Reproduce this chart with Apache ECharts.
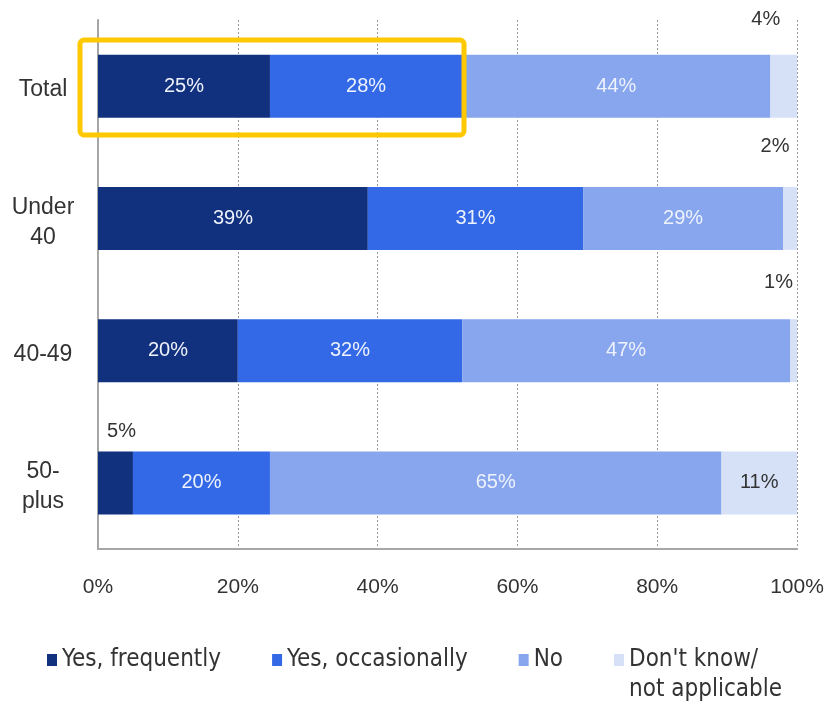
<!DOCTYPE html>
<html>
<head>
<meta charset="utf-8">
<script src="https://cdn.jsdelivr.net/npm/echarts@6/dist/echarts.min.js"></script>
<style>html,body{margin:0;padding:0;background:#fff}#c{width:824px;height:701px}</style>
</head>
<body>
<div id="c"></div>
<script>
const categories = ['Total', 'Under\n40', '40-49', '50-\nplus'];
const seriesNames = ['Yes, frequently', 'Yes, occasionally', 'No', "Don't know/\nnot applicable"];
const yesFrequently = [24.6, 38.6, 20.0, 5.0];
const yesOccasionally = [27.5, 30.8, 32.1, 19.6];
const noValues = [44.1, 28.6, 46.9, 64.6];
const dontKnow = [3.8, 2.0, 1.0, 10.8];
const xTicks = [0, 20, 40, 60, 80, 100];

const colors = ['#11307d', '#3369e6', '#87a6ee', '#d6e1f8'];
const labelColors = ['#eef2fc', '#eef2fc', '#eef2fc', '#333333'];
const allValues = [yesFrequently, yesOccasionally, noValues, dontKnow];
const mainFont = "'Liberation Sans', Arial, sans-serif";
const legendFont = "'Liberation Sans Narrow', 'DejaVu Sans Condensed', sans-serif";

// label offsets for small segments shown outside the bar
const outsideOffsets = {
  '3-0': [-18, -20],
  '3-1': [-15, -25],
  '3-2': [-15, -22],
  '0-3': [6, -5]
};

const series = allValues.map((vals, si) => ({
  name: seriesNames[si],
  type: 'bar',
  stack: 'all',
  barWidth: 63,
  itemStyle: { color: colors[si] },
  label: {
    show: true,
    position: 'inside',
    color: labelColors[si],
    fontSize: 20,
    fontFamily: mainFont,
    formatter: p => Math.round(p.value) + '%'
  },
  data: vals.map((v, ci) => {
    const key = si + '-' + ci;
    if (outsideOffsets[key]) {
      return {
        value: v,
        label: { position: 'top', distance: 5, offset: outsideOffsets[key], color: '#333333' }
      };
    }
    return v;
  })
}));

const tagLines = (txt, tag) => txt.split('\n').map(l => '{' + tag + '|' + l + '}').join('\n');

const chart = echarts.init(document.getElementById('c'), null, { renderer: 'canvas' });
chart.setOption({
  animation: false,
  backgroundColor: '#ffffff',
  grid: { left: 98, right: 27, top: 20, bottom: 152, containLabel: false, outerBoundsMode: 'none' },
  xAxis: {
    type: 'value',
    min: 0,
    max: 100,
    interval: 20,
    axisLine: { show: true, lineStyle: { color: '#a6a6a6', width: 2 } },
    axisTick: { show: false },
    axisLabel: {
      margin: 28,
      fontSize: 21,
      color: '#333333',
      fontFamily: mainFont,
      formatter: v => v + '%'
    },
    splitLine: { show: true, lineStyle: { color: '#999999', width: 1, type: [2, 2] } }
  },
  yAxis: {
    type: 'category',
    data: categories,
    inverse: true,
    axisLine: { show: true, lineStyle: { color: '#a6a6a6', width: 2 } },
    axisTick: { show: false },
    axisLabel: {
      margin: 55,
      align: 'center',
      formatter: v => '{s| }\n' + tagLines(v, 't'),
      rich: {
        s: { fontSize: 1, lineHeight: 8 },
        t: { fontSize: 23, lineHeight: 30, color: '#333333', fontFamily: mainFont, align: 'center' }
      }
    }
  },
  legend: {
    left: 42,
    top: 610,
    itemWidth: 10,
    itemHeight: 12,
    itemGap: 51,
    icon: 'rect',
    formatter: n => n.indexOf('\n') >= 0 ? '{s| }\n' + tagLines(n, 't') : tagLines(n, 't'),
    textStyle: {
      fontSize: 24,
      lineHeight: 30,
      color: '#333333',
      fontFamily: legendFont,
      rich: {
        s: { fontSize: 1, lineHeight: 30 },
        t: { fontSize: 24, lineHeight: 30, color: '#333333', fontFamily: legendFont }
      }
    },
    data: seriesNames
  },
  graphic: [{
    type: 'rect',
    shape: { x: 80, y: 40, width: 384, height: 95, r: 4 },
    style: { fill: 'none', stroke: '#ffc800', lineWidth: 5 },
    z: 100
  }],
  series: series
});
</script>
</body>
</html>
